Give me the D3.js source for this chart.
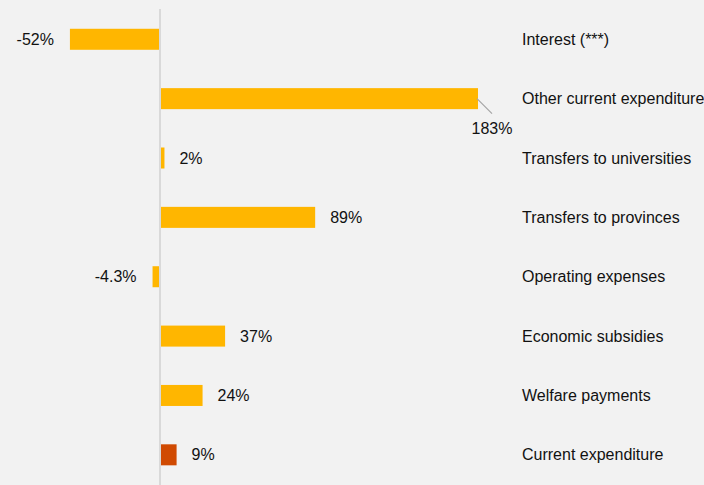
<!DOCTYPE html>
<html>
<head>
<meta charset="utf-8">
<script src="https://cdn.jsdelivr.net/npm/d3@7"></script>
<style>
  html, body { margin: 0; padding: 0; background: #f2f2f2; }
  svg { display: block; }
  text { font-family: Arial, "Liberation Sans", sans-serif; font-size: 16px; fill: #111; }
</style>
</head>
<body>
<svg id="chart" width="704" height="485"></svg>
<script>
// Year-on-year change by expenditure line (%)
const categories = [
  "Interest (***)",
  "Other current expenditure",
  "Transfers to universities",
  "Transfers to provinces",
  "Operating expenses",
  "Economic subsidies",
  "Welfare payments",
  "Current expenditure"
];
const values = [-52, 183, 2, 89, -4.3, 37, 24, 9];
const valueLabels = ["-52%", "183%", "2%", "89%", "-4.3%", "37%", "24%", "9%"];
const totalCategory = "Current expenditure";

const W = 704, H = 485;
const svg = d3.select("#chart");

const x = d3.scaleLinear().domain([0, 183]).range([160, 477]);
const y = d3.scaleBand().domain(categories).range([9.6, 484.5]).paddingInner(0.646).paddingOuter(0.323);

// zero baseline
svg.append("line")
  .attr("x1", x(0)).attr("x2", x(0))
  .attr("y1", 9).attr("y2", H)
  .attr("stroke", "#d9d9d9").attr("stroke-width", 2);

// bars
svg.selectAll("rect.bar")
  .data(categories)
  .join("rect")
  .attr("class", "bar")
  .attr("x", (d, i) => values[i] < 0 ? x(values[i]) : x(0) + 1)
  .attr("y", d => y(d))
  .attr("width", (d, i) => Math.max(1, Math.abs(x(values[i]) - x(0)) - (values[i] < 0 ? 1 : 0)))
  .attr("height", y.bandwidth())
  .attr("fill", d => d === totalCategory ? "#d04a02" : "#ffb600");

// value labels
categories.forEach((c, i) => {
  const v = values[i];
  const cy = y(c) + y.bandwidth() / 2;
  if (v >= 150) {
    // callout below the end of long bars
    const xe = x(v);
    svg.append("line")
      .attr("x1", xe).attr("y1", cy)
      .attr("x2", xe + 15).attr("y2", cy + 15)
      .attr("stroke", "#a6a6a6").attr("stroke-width", 1.2);
    svg.append("text")
      .attr("x", xe + 15).attr("y", cy + 30)
      .attr("text-anchor", "middle")
      .attr("dominant-baseline", "central")
      .text(valueLabels[i]);
  } else if (v < 0) {
    svg.append("text")
      .attr("x", x(v) - 16).attr("y", cy)
      .attr("text-anchor", "end")
      .attr("dominant-baseline", "central")
      .text(valueLabels[i]);
  } else {
    svg.append("text")
      .attr("x", x(v) + 16).attr("y", cy)
      .attr("text-anchor", "start")
      .attr("dominant-baseline", "central")
      .text(valueLabels[i]);
  }
});

// category names
svg.selectAll("text.cat")
  .data(categories)
  .join("text")
  .attr("class", "cat")
  .attr("x", 522)
  .attr("y", d => y(d) + y.bandwidth() / 2)
  .attr("dominant-baseline", "central")
  .text(d => d);
</script>
</body>
</html>
